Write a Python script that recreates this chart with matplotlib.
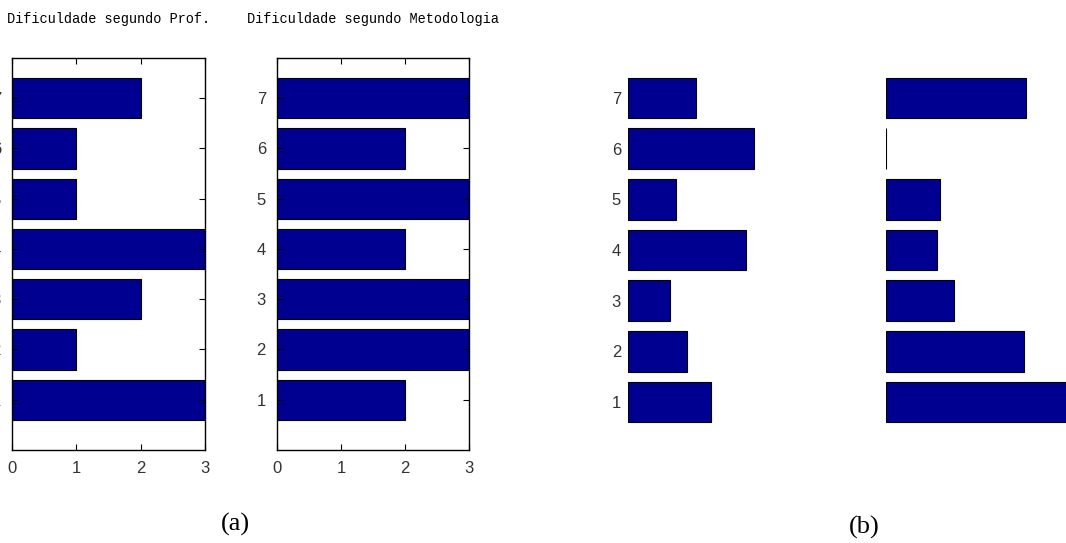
import numpy as np
import matplotlib
matplotlib.use("Agg")
import matplotlib.pyplot as plt

# data
categories = [1, 2, 3, 4, 5, 6, 7]
prof = [3, 1, 2, 3, 1, 1, 2]
metodologia = [2, 3, 3, 2, 3, 2, 3]
b_left = [1.29, 0.91, 0.65, 1.84, 0.75, 1.96, 1.05]
b_right = [3.0, 2.15, 1.05, 0.79, 0.84, 0.0, 2.18]
xticks = [0, 1, 2, 3]
titles = ["Dificuldade segundo Prof.", "Dificuldade segundo Metodologia"]
panel_labels = ["(a)", "(b)"]

W, H = 1066, 543
bar_color = "#000090"
tick_font = ["Liberation Sans Narrow", "Liberation Sans", "DejaVu Sans"]
title_font = ["Liberation Mono", "DejaVu Sans Mono"]
serif_font = ["Liberation Serif", "DejaVu Serif"]

fig = plt.figure(figsize=(W / 100, H / 100), dpi=100)


def px_axes(x0, x1, y0, y1):
    return fig.add_axes([x0 / W, 1 - y1 / H, (x1 - x0) / W, (y1 - y0) / H])


def framed(ax, vals, title):
    ax.barh(categories, vals, height=0.8, color=bar_color,
            edgecolor="black", linewidth=0.8)
    ax.set_xlim(0, 3)
    ax.set_ylim(0, 7.8)
    ax.set_xticks(xticks)
    ax.set_yticks(categories)
    ax.tick_params(direction="in", length=4, width=0.8,
                   top=True, right=True, labelsize=12)
    ax.tick_params(axis="x", pad=8)
    ax.tick_params(axis="y", pad=8)
    for lab in ax.get_xticklabels() + ax.get_yticklabels():
        lab.set_family(tick_font)
        lab.set_color("#333333")
    for s in ax.spines.values():
        s.set_linewidth(1.0)
    ax.set_title(title, family=title_font, fontsize=9.8, pad=25)


def bare(ax, vals, labels=True):
    ax.barh(categories, vals, height=0.8, color=bar_color,
            edgecolor="black", linewidth=0.8)
    ax.set_xlim(0, 3)
    ax.set_ylim(0, 7.8)
    for s in ax.spines.values():
        s.set_visible(False)
    ax.set_xticks([])
    ax.set_yticks(categories)
    ax.tick_params(axis="y", length=0, pad=5, labelsize=12,
                   labelleft=labels)
    for lab in ax.get_yticklabels():
        lab.set_family(tick_font)
        lab.set_color("#333333")


ax1 = px_axes(12, 205, 58, 450)
framed(ax1, prof, titles[0])
ax2 = px_axes(277, 469, 58, 450)
framed(ax2, metodologia, titles[1])

ax3 = px_axes(628, 821, 57.5, 452.7)
bare(ax3, b_left)
ax4 = px_axes(886, 1079, 57.5, 452.7)
bare(ax4, b_right, labels=False)

fig.text(235 / W, 1 - 524 / H, panel_labels[0], family=serif_font,
         fontsize=19, ha="center", va="center")
fig.text(864 / W, 1 - 527 / H, panel_labels[1], family=serif_font,
         fontsize=19, ha="center", va="center")

fig.savefig("out.png", dpi=100)
